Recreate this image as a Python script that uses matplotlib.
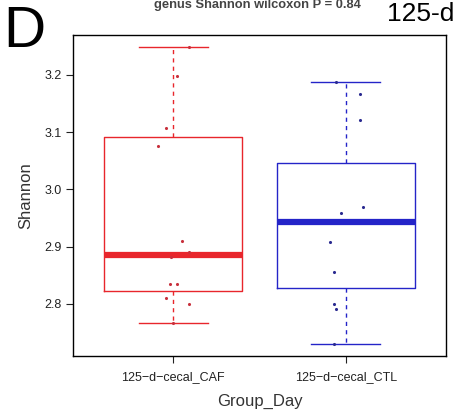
import matplotlib
matplotlib.use("Agg")
import matplotlib.pyplot as plt

plt.rcParams['font.family'] = ['Liberation Sans', 'DejaVu Sans']

groups = ["125\u2212d\u2212cecal_CAF", "125\u2212d\u2212cecal_CTL"]
colors = ["#e8262c", "#2424c8"]
point_colors = ["#c8303c", "#2a2a90"]

# box summaries per group: lower whisker, Q1, median, Q3, upper whisker
whislo = [2.767, 2.730]
q1 = [2.822, 2.828]
med = [2.886, 2.942]
q3 = [3.092, 3.046]
whishi = [3.249, 3.187]

# jittered sample points (x offset, Shannon)
caf_x = [0.09, 0.02, -0.04, -0.09, 0.05, 0.09, -0.01, -0.02, 0.02, -0.04, 0.09, 0.0]
caf_y = [3.249, 3.199, 3.108, 3.076, 2.909, 2.890, 2.881, 2.834, 2.835, 2.810, 2.800, 2.767]
ctl_x = [-0.06, 0.08, 0.08, 0.10, -0.03, -0.09, -0.07, -0.07, -0.06, -0.07]
ctl_y = [3.187, 3.167, 3.122, 2.969, 2.959, 2.908, 2.855, 2.799, 2.791, 2.730]

fig = plt.figure(figsize=(4.59, 4.12), dpi=100)
ax = fig.add_axes([0.159, 0.136, 0.813, 0.779])

for i in range(2):
    stats = [dict(whislo=whislo[i], q1=q1[i], med=med[i], q3=q3[i], whishi=whishi[i], fliers=[])]
    c = colors[i]
    ax.bxp(stats, positions=[i + 1], widths=0.8, showfliers=False, patch_artist=False,
           boxprops=dict(color=c, linewidth=1.0),
           medianprops=dict(color=c, linewidth=4.5, solid_capstyle='butt'),
           whiskerprops=dict(color=c, linewidth=1.0, linestyle=(0, (3, 3))),
           capprops=dict(color=c, linewidth=1.0), capwidths=0.4)

ax.scatter([1 + x for x in caf_x], caf_y, s=5, color=point_colors[0], zorder=3, linewidths=0)
ax.scatter([2 + x for x in ctl_x], ctl_y, s=5, color=point_colors[1], zorder=3, linewidths=0)

ax.set_xlim(0.42, 2.58)
ax.set_ylim(2.7086, 3.2698)
ax.set_yticks([2.8, 2.9, 3.0, 3.1, 3.2])
ax.set_yticklabels(["2.8", "2.9", "3.0", "3.1", "3.2"])
ax.set_xticks([1, 2])
ax.set_xticklabels(groups)
ax.tick_params(axis='both', length=5, width=0.8, labelsize=9, colors='#222222', pad=3)
ax.tick_params(axis='x', pad=6)
for s in ax.spines.values():
    s.set_linewidth(1.0)
    s.set_color('black')

ax.set_ylabel("Shannon", fontsize=12, color='#333333', labelpad=8)
ax.set_xlabel("Group_Day", fontsize=12, color='#333333', labelpad=8)

fig.text(0.56, 0.988, "genus Shannon wilcoxon P = 0.84", fontsize=9.3, fontweight='bold',
         color='#444444', ha='center', va='center')
fig.text(0.843, 0.965, "125-d", fontsize=19, color='black', ha='left', va='center')
fig.text(0.008, 0.922, "D", fontsize=42, color='black', ha='left', va='center')

fig.savefig("out.png", dpi=100)
